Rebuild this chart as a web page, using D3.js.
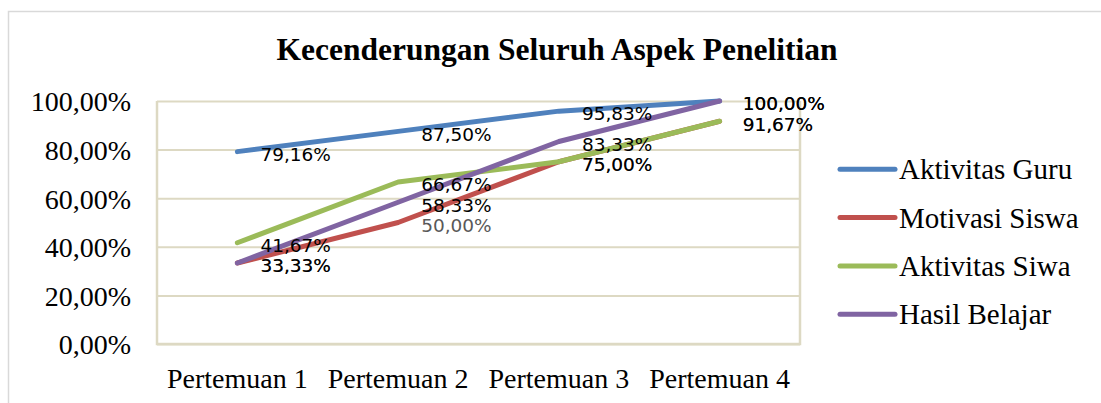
<!DOCTYPE html>
<html>
<head>
<meta charset="utf-8">
<script src="https://cdn.jsdelivr.net/npm/d3@7"></script>
<style>
  html, body { margin: 0; padding: 0; background: #fff; }
  svg { display: block; }
</style>
</head>
<body>
<svg id="chart" width="1101" height="403"></svg>
<script>
const title = "Kecenderungan Seluruh Aspek Penelitian";
const categories = ["Pertemuan 1", "Pertemuan 2", "Pertemuan 3", "Pertemuan 4"];
const seriesNames = ["Aktivitas Guru", "Motivasi Siswa", "Aktivitas Siwa", "Hasil Belajar"];
const aktivitasGuru = [79.16, 87.50, 95.83, 100.00];
const motivasiSiswa = [33.33, 50.00, 75.00, 91.67];
const aktivitasSiwa = [41.67, 66.67, 75.00, 91.67];
const hasilBelajar = [33.33, 58.33, 83.33, 100.00];
const yTicks = [0, 20, 40, 60, 80, 100];
const colors = ["#4F81BD", "#C0504D", "#9BBB59", "#8064A2"];
const labelColors = ["#000000", "#595959", "#000000", "#000000"];

const series = seriesNames.map((name, i) => ({
  name,
  values: [aktivitasGuru, motivasiSiswa, aktivitasSiwa, hasilBelajar][i],
  color: colors[i],
  labelColor: labelColors[i]
}));

const fmt = v => v.toFixed(2).replace(".", ",") + "%";

const svg = d3.select("#chart");
const plot = { left: 157, right: 800, top: 101, bottom: 344 };

// outer chart border
svg.append("rect")
  .attr("x", 8.5).attr("y", 11.5)
  .attr("width", 1110).attr("height", 420)
  .attr("fill", "#fff").attr("stroke", "#D9D9D9").attr("stroke-width", 1.5);

const x = d3.scaleBand().domain(categories).range([plot.left, plot.right]);
const y = d3.scaleLinear().domain([0, 100]).range([plot.bottom, plot.top]);
const gridColor = "#DDD9C3";

// gridlines
const yAxis = d3.axisLeft(y).tickValues(yTicks).tickSize(-(plot.right - plot.left)).tickFormat(d => fmt(d));
const gy = svg.append("g").attr("transform", `translate(${plot.left},0)`).call(yAxis);
gy.select(".domain").remove();
gy.selectAll(".tick line").attr("stroke", gridColor).attr("stroke-width", 2);
gy.selectAll(".tick text")
  .attr("x", -26).attr("dy", "0.35em")
  .attr("font-family", "'Liberation Serif', 'Times New Roman', serif")
  .attr("font-size", 28).attr("fill", "#000");

// plot frame (left/right/bottom)
svg.append("path")
  .attr("d", `M${plot.left},${plot.top} V${plot.bottom} H${plot.right} V${plot.top}`)
  .attr("fill", "none").attr("stroke", gridColor).attr("stroke-width", 2.5);

// x axis labels
const xAxis = d3.axisBottom(x).tickSize(0).tickPadding(0);
const gx = svg.append("g").attr("transform", `translate(0,${plot.bottom})`).call(xAxis);
gx.select(".domain").remove();
gx.selectAll(".tick text")
  .attr("y", 44).attr("dy", 0)
  .attr("font-family", "'Liberation Serif', 'Times New Roman', serif")
  .attr("font-size", 28).attr("fill", "#000");

// lines
const px = c => x(c) + x.bandwidth() / 2;
const line = d3.line().x((d, i) => px(categories[i])).y(d => y(d));
svg.append("g").selectAll("path").data(series).join("path")
  .attr("d", d => line(d.values))
  .attr("fill", "none")
  .attr("stroke", d => d.color)
  .attr("stroke-width", 5)
  .attr("stroke-linecap", "round")
  .attr("stroke-linejoin", "round");

// data labels
const lg = svg.append("g");
series.forEach(s => {
  s.values.forEach((v, i) => {
    lg.append("text")
      .attr("x", px(categories[i]) + 23)
      .attr("y", y(v) + 9.3)
      .attr("font-family", "'DejaVu Sans', sans-serif")
      .attr("font-size", 18.5)
      .attr("fill", s.labelColor)
      .text(fmt(v));
  });
});

// title
svg.append("text")
  .attr("x", 557).attr("y", 60)
  .attr("text-anchor", "middle")
  .attr("font-family", "'Liberation Serif', 'Times New Roman', serif")
  .attr("font-weight", "bold")
  .attr("font-size", 31.5)
  .attr("fill", "#000")
  .text(title);

// legend
const legend = svg.append("g");
series.forEach((s, i) => {
  const ly = 169.3 + i * 48.3;
  legend.append("line")
    .attr("x1", 840).attr("x2", 895).attr("y1", ly).attr("y2", ly)
    .attr("stroke", s.color).attr("stroke-width", 5).attr("stroke-linecap", "round");
  legend.append("text")
    .attr("x", 899).attr("y", ly + 10)
    .attr("font-family", "'Liberation Serif', 'Times New Roman', serif")
    .attr("font-size", 29).attr("fill", "#000")
    .text(s.name);
});
</script>
</body>
</html>
